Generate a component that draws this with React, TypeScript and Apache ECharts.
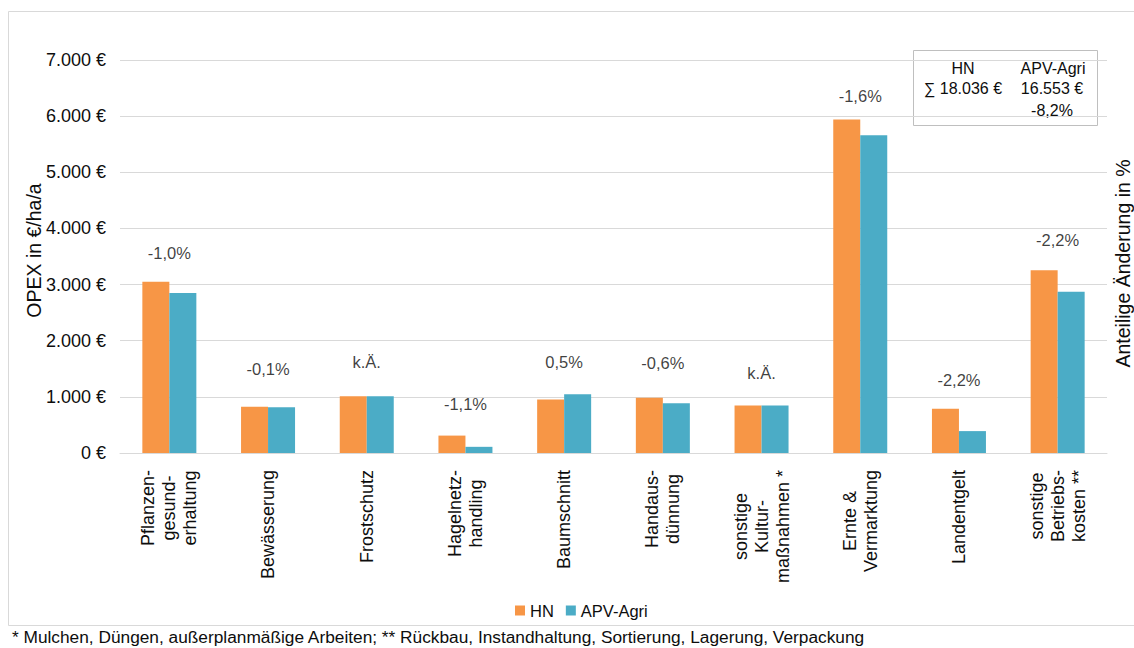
import React, { useEffect, useRef } from "react";
import * as echarts from "echarts";

const categories = [
  "Pflanzen-\ngesund-\nerhaltung",
  "Bewässerung",
  "Frostschutz",
  "Hagelnetz-\nhandling",
  "Baumschnitt",
  "Handaus-\ndünnung",
  "sonstige\nKultur-\nmaßnahmen *",
  "Ernte &\nVermarktung",
  "Landentgelt",
  "sonstige\nBetriebs-\nkosten **",
];
const hnValues = [3050, 825, 1010, 310, 955, 985, 845, 5940, 790, 3255];
const apvValues = [2850, 815, 1010, 110, 1045, 885, 845, 5660, 390, 2870];
const changeLabels = ["-1,0%", "-0,1%", "k.Ä.", "-1,1%", "0,5%", "-0,6%", "k.Ä.", "-1,6%", "-2,2%", "-2,2%"];
const changeLabelAt = [3560, 1500, 1620, 870, 1620, 1600, 1430, 6360, 1300, 3790];
const yMin = 0;
const yMax = 7000;
const yInterval = 1000;
const seriesNames = ["HN", "APV-Agri"];
const totalHN = 18036;
const totalAPV = 16553;
const totalChange = "-8,2%";
const footnote =
  "* Mulchen, Düngen, außerplanmäßige Arbeiten; ** Rückbau, Instandhaltung, Sortierung, Lagerung, Verpackung";

const FONT = "'Liberation Sans', Arial, sans-serif";
const TEXT = "#0d0d0d";
const ORANGE = "#F79646";
const BLUE = "#4BACC6";
const GRID = "#d9d9d9";

const fmtEuro = (v: number) =>
  v.toString().replace(/\B(?=(\d{3})+(?!\d))/g, ".") + " €";

export default function App() {
  const ref = useRef<HTMLDivElement>(null);
  useEffect(() => {
    if (!ref.current) return;
    const chart = echarts.init(ref.current, null, { renderer: "svg" });
    const boxText = (text: string, x: number, y: number) => ({
      type: "text",
      x,
      y,
      style: {
        text,
        font: `16px ${FONT}`,
        fill: TEXT,
        textAlign: "center",
        textVerticalAlign: "middle",
      },
    });
    const option: any = {
      animation: false,
      backgroundColor: "#ffffff",
      textStyle: { fontFamily: FONT, color: TEXT },
      grid: {
        left: 120,
        right: 27,
        top: 60,
        bottom: 195,
        containLabel: false,
        outerBoundsMode: "none",
      },
      legend: {
        data: seriesNames,
        left: 510,
        top: 597,
        icon: "rect",
        itemWidth: 10,
        itemHeight: 10,
        itemGap: 12,
        textStyle: { fontFamily: FONT, fontSize: 16.5, color: TEXT },
      },
      xAxis: {
        type: "category",
        data: categories,
        axisLine: { show: true, lineStyle: { color: GRID, width: 1 } },
        axisTick: { show: false },
        axisLabel: {
          interval: 0,
          rotate: 90,
          margin: 17,
          formatter: (v: string) =>
            v
              .split("\n")
              .map((l) => "{c|" + l + "}")
              .join("\n"),
          rich: {
            c: {
              align: "center",
              fontFamily: FONT,
              fontSize: 18,
              lineHeight: 21,
              color: TEXT,
            },
          },
        },
      },
      yAxis: [
        {
          type: "value",
          min: yMin,
          max: yMax,
          interval: yInterval,
          name: "OPEX in €/ha/a",
          nameLocation: "middle",
          nameGap: 76,
          nameMoveOverlap: false,
          nameTextStyle: {
            fontFamily: FONT,
            fontSize: 19.5,
            color: TEXT,
            padding: [0, 0, 0, 12],
          },
          axisLine: { show: false },
          axisTick: { show: false },
          axisLabel: {
            margin: 14,
            fontFamily: FONT,
            fontSize: 18,
            color: TEXT,
            formatter: (v: number) => fmtEuro(v),
          },
          splitLine: { show: true, lineStyle: { color: GRID, width: 1 } },
        },
        {
          type: "value",
          position: "right",
          min: yMin,
          max: yMax,
          interval: yInterval,
          name: "Anteilige Änderung in %",
          nameLocation: "middle",
          nameGap: 6,
          nameMoveOverlap: false,
          nameTextStyle: {
            fontFamily: FONT,
            fontSize: 19.5,
            color: TEXT,
            padding: [0, 14, 0, 0],
          },
          axisLine: { show: false },
          axisTick: { show: false },
          axisLabel: { show: false },
          splitLine: { show: false },
        },
      ],
      series: [
        {
          name: seriesNames[0],
          type: "bar",
          data: hnValues,
          barWidth: 27,
          barGap: "0%",
          itemStyle: { color: ORANGE },
        },
        {
          name: seriesNames[1],
          type: "bar",
          data: apvValues,
          barWidth: 27,
          barGap: "0%",
          itemStyle: { color: BLUE },
        },
        {
          name: "Änderung",
          type: "scatter",
          data: changeLabelAt,
          symbolSize: 1,
          itemStyle: { color: "transparent" },
          silent: true,
          z: 10,
          label: {
            show: true,
            position: "inside",
            formatter: (p: any) => changeLabels[p.dataIndex],
            fontFamily: FONT,
            fontSize: 16.5,
            color: TEXT,
          },
        },
      ],
      graphic: [
        {
          type: "rect",
          shape: { x: 8.5, y: 11.5, width: 1140, height: 614 },
          style: { fill: "none", stroke: GRID, lineWidth: 1 },
          silent: true,
          z: -10,
        },
        {
          type: "group",
          children: [
            {
              type: "rect",
              shape: { x: 913.5, y: 50.5, width: 184, height: 75 },
              style: { fill: "#ffffff", stroke: "#bfbfbf", lineWidth: 1 },
            },
            boxText(seriesNames[0], 963, 68),
            boxText(seriesNames[1], 1053, 68),
            boxText("∑ " + fmtEuro(totalHN), 963, 88),
            boxText(fmtEuro(totalAPV), 1052, 88),
            boxText(totalChange, 1052, 110),
          ],
        },
        {
          type: "text",
          x: 12,
          y: 637,
          style: {
            text: footnote,
            font: `17.3px ${FONT}`,
            fill: TEXT,
            textAlign: "left",
            textVerticalAlign: "middle",
          },
        },
      ],
    };
    chart.setOption(option);
    return () => chart.dispose();
  }, []);
  return (
    <div
      ref={ref}
      style={{ position: "absolute", left: 0, top: 0, width: 1134, height: 648 }}
    />
  );
}
